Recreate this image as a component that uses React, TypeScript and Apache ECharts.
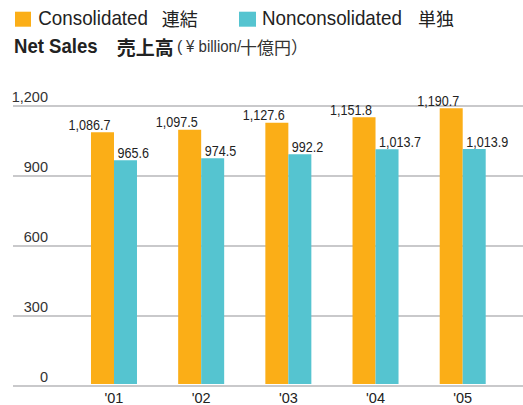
import React, { useEffect, useRef } from "react";
import * as echarts from "echarts";

const categories = ["'01", "'02", "'03", "'04", "'05"];
const consolidated = [1086.7, 1097.5, 1127.6, 1151.8, 1190.7];
const nonconsolidated = [965.6, 974.5, 992.2, 1013.7, 1013.9];
const yTicks = [0, 300, 600, 900, 1200];

const SANS = "'Liberation Sans', Arial, sans-serif";
const CJK = "'Noto Sans CJK JP', sans-serif";
const ORANGE = "#FBAE17";
const TEAL = "#55C4D0";
const INK = "#222";

const fmt = (v: number) =>
  v.toLocaleString("en-US", { minimumFractionDigits: 1, maximumFractionDigits: 1 });

const labelSeries = (name: string, values: number[], side: "left" | "right") => ({
  name: name + "-labels",
  type: "custom",
  xAxisIndex: 1,
  yAxisIndex: 1,
  silent: true,
  z: 5,
  data: values.map((v, i) => [i, v]),
  encode: { x: 0, y: 1 },
  renderItem: (_params: any, api: any) => {
    const v = api.value(1);
    const p = api.coord([api.value(0), v]);
    return {
      type: "text",
      x: side === "left" ? p[0] - 3.5 : p[0] + 3.5,
      y: p[1] - 8,
      scaleX: 0.84,
      style: {
        text: fmt(v),
        align: side === "left" ? "right" : "left",
        verticalAlign: "middle",
        fontFamily: SANS,
        fontSize: 15,
        fill: INK,
      },
    };
  },
});

export default function App() {
  const ref = useRef<HTMLDivElement>(null);
  useEffect(() => {
    if (!ref.current) return;
    const chart = echarts.init(ref.current, null, { renderer: "svg" });
    const yMin = yTicks[0];
    const yMax = yTicks[yTicks.length - 1];
    const interval = yTicks[1] - yTicks[0];
    const latin = (text: string, x: number, y: number, size: number, weight = "normal", color = INK, sx = 0.94) => ({
      type: "text",
      x,
      y,
      scaleX: sx,
      style: { text, fontFamily: SANS, fontSize: size, fontWeight: weight, fill: color, verticalAlign: "middle", align: "left" },
    });
    const cjk = (text: string, x: number, y: number, size: number, weight = "normal", color = INK) => ({
      type: "text",
      x,
      y,
      style: { text, fontFamily: CJK, fontSize: size, fontWeight: weight, fill: color, verticalAlign: "middle", align: "left" },
    });
    chart.setOption({
      animation: false,
      backgroundColor: "#fff",
      graphic: [
        { type: "rect", shape: { x: 15, y: 11.7, width: 16, height: 15 }, style: { fill: ORANGE } },
        latin("Consolidated", 38.3, 18, 20),
        cjk("連結", 161.7, 18.3, 18),
        { type: "rect", shape: { x: 239, y: 11.7, width: 17, height: 15 }, style: { fill: TEAL } },
        latin("Nonconsolidated", 262, 18, 20),
        cjk("単独", 418, 18.3, 18),
        latin("Net Sales", 14, 46.3, 20, "bold", INK, 0.93),
        cjk("売上高", 116.7, 46.3, 19, "bold"),
        latin("(", 177, 46.3, 17, "normal", "#333", 0.94),
        latin("¥ billion/", 186, 46.3, 16, "normal", "#333", 0.94),
        cjk("十億円）", 240, 46.3, 17, "normal", "#333"),
      ],
      grid: [
        { left: 13, right: 0, top: 106, bottom: 19 },
        { left: 70.4, right: 16.7, top: 106, bottom: 19 },
      ],
      xAxis: [
        { gridIndex: 0, type: "value", show: false, min: 0, max: 1 },
        {
          gridIndex: 1,
          type: "category",
          data: categories,
          axisLine: { show: false },
          axisTick: { show: false },
          axisLabel: { fontFamily: SANS, fontSize: 14.5, color: INK, margin: 6 },
        },
      ],
      yAxis: [
        {
          gridIndex: 0,
          type: "value",
          min: yMin,
          max: yMax,
          interval,
          axisLine: { show: false },
          axisTick: { show: false },
          splitLine: { lineStyle: { color: "#c9c9cb", width: 2 } },
          axisLabel: {
            inside: true,
            margin: 35,
            align: "right",
            verticalAlign: "bottom",
            padding: [0, 0, 2, 0],
            fontFamily: SANS,
            fontSize: 14.5,
            color: "#333",
            formatter: (v: number) => v.toLocaleString("en-US"),
          },
        },
        { gridIndex: 1, type: "value", min: yMin, max: yMax, interval, show: false },
      ],
      series: [
        {
          name: "Consolidated",
          type: "bar",
          xAxisIndex: 1,
          yAxisIndex: 1,
          data: consolidated,
          barWidth: 23,
          barGap: "0%",
          itemStyle: { color: ORANGE },
        },
        {
          name: "Nonconsolidated",
          type: "bar",
          xAxisIndex: 1,
          yAxisIndex: 1,
          data: nonconsolidated,
          barWidth: 23,
          barGap: "0%",
          itemStyle: { color: TEAL },
        },
        labelSeries("Consolidated", consolidated, "left"),
        labelSeries("Nonconsolidated", nonconsolidated, "right"),
      ],
    });
    return () => chart.dispose();
  }, []);
  return (
    <div
      ref={ref}
      style={{ position: "absolute", left: 0, top: 0, width: 523, height: 405 }}
    />
  );
}
